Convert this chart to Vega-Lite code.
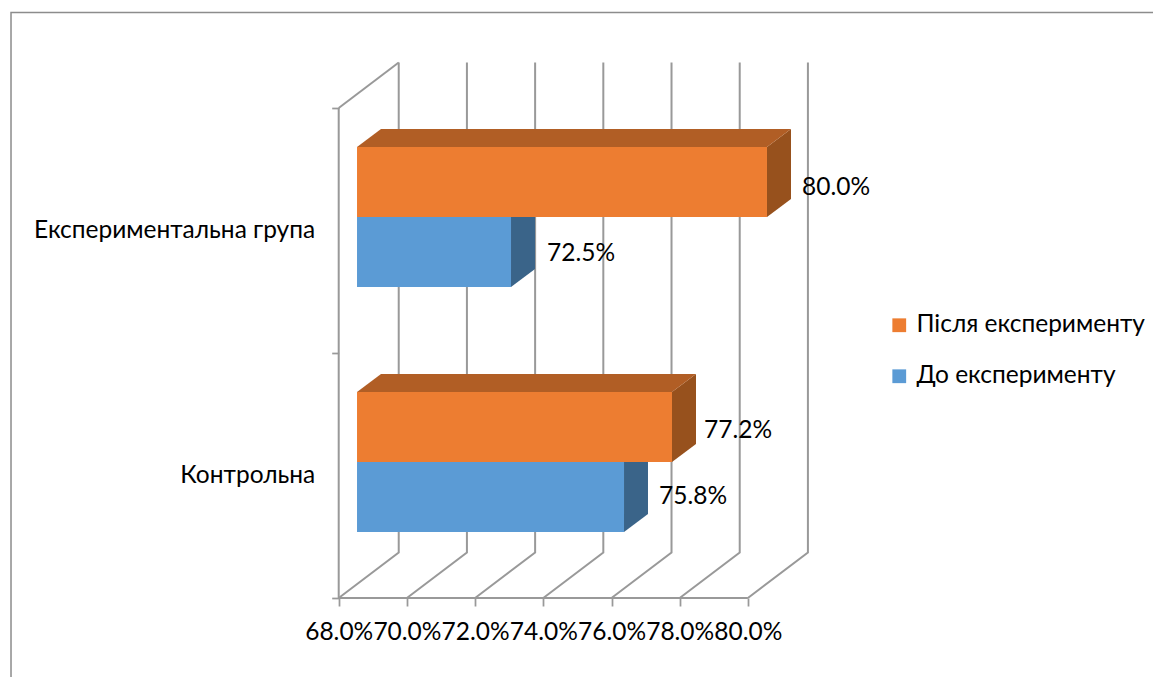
{"$schema":"https://vega.github.io/schema/vega-lite/v6.json","width":1153,"height":677,"autosize":"none","padding":0,"background":"white","config":{"font":"Lato","view":{"stroke":null}},"layer":[{"data":{"values":[{"s":"frame","i":0,"x":0.5839,"y":-0.3224},{"s":"frame","i":1,"x":0.5839,"y":2.3898},{"s":"frame","i":2,"x":0.9188,"y":2.3898}]},"mark":{"type":"line","stroke":"#8c8c8c","strokeWidth":1.5},"encoding":{"x":{"field":"x","type":"quantitative","scale":{"domain":[0.58067,0.9188],"nice":false,"zero":false},"axis":{"values":[0.68,0.70,0.72,0.74,0.76,0.78,0.80],"format":".1%","title":null,"grid":false,"domain":false,"offset":-79,"tickColor":"#999999","tickWidth":1.75,"tickSize":8,"labelFontSize":24.5,"labelColor":"#000000","labelPadding":14,"labelOverlap":false,"labelFlush":false}},"y":{"field":"y","type":"quantitative","scale":{"domain":[-0.32245,2.44082],"nice":false,"zero":false},"axis":{"values":[0,0.5,1,1.5,2],"labelExpr":"datum.value==0.5?'Контрольна':datum.value==1.5?'Експериментальна група':''","title":null,"grid":false,"domain":false,"offset":-338.7,"tickColor":"#999999","tickWidth":1.75,"tickSize":7,"tickOpacity":{"condition":{"test":"datum.value==0.5||datum.value==1.5","value":0},"value":1},"labelFontSize":24.5,"labelColor":"#000000","labelPadding":17,"labelLimit":400,"labelOverlap":false,"labelFlush":false}},"detail":{"field":"s"},"order":{"field":"i"}}},{"data":{"values":[{"s":"floor","i":0,"x":0.68,"y":2},{"s":"floor","i":1,"x":0.68,"y":0},{"s":"floor","i":2,"x":0.80,"y":0},{"s":"side","i":0,"x":0.68,"y":2},{"s":"side","i":1,"x":0.6976,"y":2.1857},{"s":"g68","i":0,"x":0.68,"y":0},{"s":"g68","i":1,"x":0.6976,"y":0.1857},{"s":"g68","i":2,"x":0.6976,"y":2.1857},{"s":"g70","i":0,"x":0.70,"y":0},{"s":"g70","i":1,"x":0.7176,"y":0.1857},{"s":"g70","i":2,"x":0.7176,"y":2.1857},{"s":"g72","i":0,"x":0.72,"y":0},{"s":"g72","i":1,"x":0.7376,"y":0.1857},{"s":"g72","i":2,"x":0.7376,"y":2.1857},{"s":"g74","i":0,"x":0.74,"y":0},{"s":"g74","i":1,"x":0.7576,"y":0.1857},{"s":"g74","i":2,"x":0.7576,"y":2.1857},{"s":"g76","i":0,"x":0.76,"y":0},{"s":"g76","i":1,"x":0.7776,"y":0.1857},{"s":"g76","i":2,"x":0.7776,"y":2.1857},{"s":"g78","i":0,"x":0.78,"y":0},{"s":"g78","i":1,"x":0.7976,"y":0.1857},{"s":"g78","i":2,"x":0.7976,"y":2.1857},{"s":"g80","i":0,"x":0.80,"y":0},{"s":"g80","i":1,"x":0.8176,"y":0.1857},{"s":"g80","i":2,"x":0.8176,"y":2.1857}]},"mark":{"type":"line","stroke":"#999999","strokeWidth":2},"encoding":{"x":{"field":"x","type":"quantitative"},"y":{"field":"y","type":"quantitative"},"detail":{"field":"s"},"order":{"field":"i"}}},{"data":{"values":[{"b":"ke","x":0.77774,"y":0.8408,"y2":0.5551},{"b":"ke","x":0.78478,"y":0.9143,"y2":0.6286},{"b":"eb","x":0.73053,"y":1.5551,"y2":1.2694},{"b":"eb","x":0.73757,"y":1.6286,"y2":1.3429},{"b":"cb","x":0.76367,"y":0.5551,"y2":0.2694},{"b":"cb","x":0.7707,"y":0.6286,"y2":0.3429},{"b":"ee","x":0.8056,"y":1.8408,"y2":1.5551},{"b":"ee","x":0.81264,"y":1.9143,"y2":1.6286}]},"mark":{"type":"area","orient":"vertical"},"encoding":{"x":{"field":"x","type":"quantitative"},"y":{"field":"y","type":"quantitative","stack":null},"y2":{"field":"y2"},"detail":{"field":"b"},"fill":{"field":"b","type":"nominal","legend":null,"scale":{"domain":["ke","eb","cb","ee"],"range":["#97511D","#3A6489","#3A6489","#97511D"]}}}},{"data":{"values":[{"b":"e","y":1.8408,"x":0.68537,"x2":0.8056},{"b":"e","y":1.9143,"x":0.6924,"x2":0.81264},{"b":"c","y":0.8408,"x":0.68537,"x2":0.77774},{"b":"c","y":0.9143,"x":0.6924,"x2":0.78478}]},"mark":{"type":"area","orient":"horizontal","fill":"#B15E25"},"encoding":{"y":{"field":"y","type":"quantitative"},"x":{"field":"x","type":"quantitative","stack":null},"x2":{"field":"x2"},"detail":{"field":"b"}}},{"data":{"values":[{"group":"Експериментальна група","series":"Після експерименту","start":0.68537,"end":0.8056,"lo":1.5551,"hi":1.8408},{"group":"Експериментальна група","series":"До експерименту","start":0.68537,"end":0.73053,"lo":1.2694,"hi":1.5551},{"group":"Контрольна","series":"Після експерименту","start":0.68537,"end":0.77774,"lo":0.5551,"hi":0.8408},{"group":"Контрольна","series":"До експерименту","start":0.68537,"end":0.76367,"lo":0.2694,"hi":0.5551}]},"mark":{"type":"rect"},"encoding":{"x":{"field":"start","type":"quantitative"},"x2":{"field":"end"},"y":{"field":"lo","type":"quantitative"},"y2":{"field":"hi"},"color":{"field":"series","type":"nominal","scale":{"domain":["Після експерименту","До експерименту"],"range":["#ED7D31","#5B9BD5"]},"legend":{"title":null,"orient":"none","legendX":887,"legendY":313,"symbolType":"square","symbolSize":190,"symbolStrokeWidth":0,"labelFontSize":24.5,"labelColor":"#000000","rowPadding":26,"labelOffset":5,"labelLimit":300}}}},{"data":{"values":[{"value":0.8,"x":0.82584,"y":1.6735},{"value":0.725,"x":0.75106,"y":1.4041},{"value":0.772,"x":0.7971,"y":0.6816},{"value":0.758,"x":0.7839,"y":0.4122}]},"mark":{"type":"text","fontSize":24.5,"color":"#000000","baseline":"middle","align":"center"},"encoding":{"x":{"field":"x","type":"quantitative"},"y":{"field":"y","type":"quantitative"},"text":{"field":"value","type":"quantitative","format":".1%"}}}]}
